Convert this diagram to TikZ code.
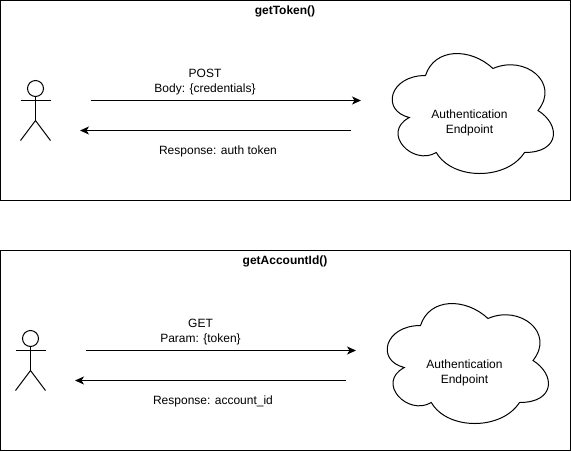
\documentclass[tikz,border=0pt]{standalone}
\usepackage{fontspec}
\setmainfont{Liberation Sans}
\usetikzlibrary{arrows.meta}

\tikzset{
	frame/.style = {draw, line width = 1pt, minimum width = 570pt, minimum height = 200pt, inner sep = 0, outer sep = 0, anchor = north west},
	title/.style = {font = \fontsize{12}{15}\selectfont\bfseries, inner sep = 0},
	label/.style = {font = \fontsize{12}{15}\selectfont, align = center, inner sep = 0},
	message/.style = {-{Stealth[length = 9pt, width = 8pt, inset = 2.5pt]}, line width = 1pt},
	actor/.pic = {
		\draw [line width = 1pt] (0, -12) circle (8);
		\draw [line width = 1pt] (0, -4) -- (0, 20);
		\draw [line width = 1pt] (-15, 0) -- (15, 0);
		\draw [line width = 1pt] (-15, 40) -- (0, 20) -- (15, 40);
	},
	authcloud/.pic = {
		\draw [line width = 1pt] (45, 35)
			.. controls (9, 35) and (0, 70) .. (28.8, 77)
			.. controls (0, 92.4) and (32.4, 126) .. (55.8, 112)
			.. controls (72, 140) and (126, 140) .. (144, 112)
			.. controls (180, 112) and (180, 84) .. (157.5, 70)
			.. controls (180, 42) and (144, 14) .. (112.5, 28)
			.. controls (90, 7) and (54, 7) .. (45, 35) -- cycle;
	}
}

\begin{document}
\begin{tikzpicture}[x = 1pt, y = 1pt, yscale = -1]
	\useasboundingbox (0, 0) rectangle (571, 451);

	% top part
	\node [frame] (frameToken) at (0.5, 0.5) {};
	\node [title] (titleToken) at (285, 11) {getToken()};
	\pic [transform shape] at (35.5, 100.5) {actor};
	\pic [transform shape] at (380.5, 40.5) {authcloud};
	\node [label] (cloudToken) at (469.5, 122.5) {Authentication\\Endpoint};

	\coordinate (postStart) at (90.5, 100.5);
	\coordinate (postEnd) at (361, 100.5);
	\coordinate (authStart) at (350.5, 130.5);
	\coordinate (authEnd) at (80, 130.5);
	\draw [message] (postStart) to (postEnd);
	\draw [message] (authStart) to (authEnd);
	\node [label] (postLabel) at (205, 82) {POST\\Body: \{credentials\}};
	\node [label] (authLabel) at (218, 151.5) {Response: auth token};

	% bottom part
	\node [frame] (frameAccount) at (0.5, 250.5) {};
	\node [title] (titleAccount) at (285, 261) {getAccountId()};
	\pic [transform shape] at (30.5, 350.5) {actor};
	\pic [transform shape] at (375.5, 290.5) {authcloud};
	\node [label] (cloudAccount) at (464.5, 372.5) {Authentication\\Endpoint};

	\coordinate (getStart) at (85.5, 350.5);
	\coordinate (getEnd) at (356, 350.5);
	\coordinate (idStart) at (345.5, 380.5);
	\coordinate (idEnd) at (75, 380.5);
	\draw [message] (getStart) to (getEnd);
	\draw [message] (idStart) to (idEnd);
	\node [label] (getLabel) at (200.5, 332) {GET\\Param: \{token\}};
	\node [label] (idLabel) at (213, 401.5) {Response: account\_id};
\end{tikzpicture}
\end{document}
